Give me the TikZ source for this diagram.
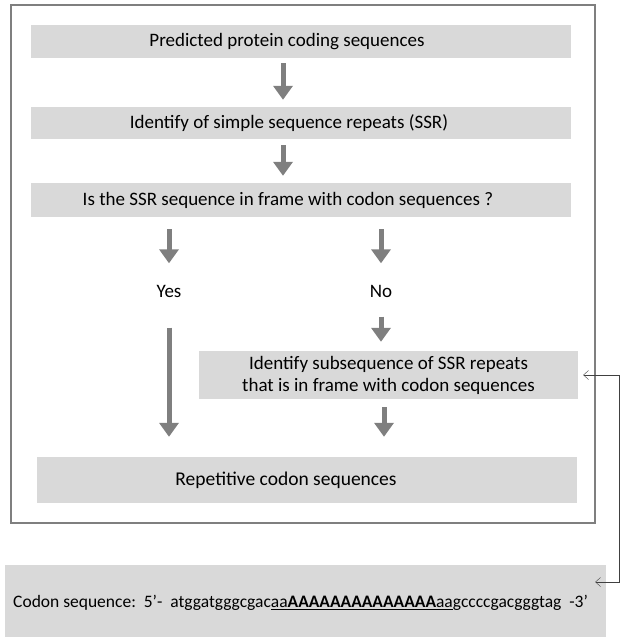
\documentclass[tikz,border=0pt]{standalone}
\usepackage{fontspec}
\setmainfont{Carlito}
\usetikzlibrary{arrows.meta,positioning,calc}
\definecolor{boxgray}{RGB}{217,217,217}
\definecolor{arrowgray}{RGB}{127,127,127}
\definecolor{linegray}{RGB}{64,64,64}
\tikzstyle{box} = [fill=boxgray, inner sep=0pt, font=\fontsize{19}{22}\selectfont]
\tikzstyle{arrow} = [line width=5pt, draw=arrowgray, -{Triangle[width=19pt,length=14pt]}]
\tikzstyle{link} = [thin, draw=linegray, {Straight Barb[length=5pt,width=9pt]}-{Straight Barb[length=5pt,width=9pt]}]

\begin{document}
\begin{tikzpicture}[x=1pt,y=1pt]
\useasboundingbox (0,0) rectangle (624,-643);
% frame
\draw[arrowgray, line width=2pt] (11,-5) rectangle (595,-523);
\node[box, minimum width=540pt, minimum height=33pt] (b1) at (301,-41.5) {Predicted protein coding sequences\kern28pt};
\node[box, minimum width=540pt, minimum height=32pt] (b2) at (301,-123) {Identify of simple sequence repeats (SSR)\kern24pt};
\node[box, minimum width=540pt, minimum height=34pt] (b3) at (301,-200) {Is the SSR sequence in frame with codon sequences ?\kern26pt};
\node[font=\fontsize{19}{22}\selectfont] (yes) at (169,-291) {Yes};
\node[font=\fontsize{19}{22}\selectfont] (no) at (381,-291) {No};
\node[box, minimum width=379pt, minimum height=48pt, align=center] (b4) at (388.5,-375) {Identify subsequence of SSR repeats\\that is in frame with codon sequences};
\node[box, minimum width=540pt, minimum height=46pt, font=\fontsize{19.5}{23}\selectfont] (b5) at (307,-480) {Repetitive codon sequences\kern42pt};
\node[box, minimum width=601pt, minimum height=72pt] (seq) at (305.5,-601) {};
\node[font=\fontsize{17.5}{21}\selectfont, anchor=west, inner sep=0pt] (codon) at (13,-603) {Codon sequence:\ \ 5’-\ \ atggatgggcgac\underline{aa\textbf{AAAAAAAAAAAAAA}aa}gccccgacgggtag\ \ -3’};
\draw[arrow, shorten <=5pt, shorten >=7pt] (b1.south -| 283,0) -- (b2.north -| 283,0);
\draw[arrow, shorten <=6pt, shorten >=7pt] (b2.south -| 283,0) -- (b3.north -| 283,0);
\draw[arrow, shorten <=12pt, shorten >=18pt] (b3.south -| yes) -- (yes);
\draw[arrow, shorten <=12pt, shorten >=18pt] (b3.south -| no) -- (no);
\draw[arrow, shorten <=16pt, shorten >=9pt] (no) -- (b4.north -| no);
\draw[arrow, shorten <=27pt, shorten >=20pt] (yes) -- (b5.north -| yes);
\draw[arrow, shorten <=8pt, shorten >=20pt] (b4.south -| 384,0) -- (b5.north -| 384,0);
\draw[link] ([xshift=5pt]b4.east) -- ++(36,0) |- ([xshift=-11pt,yshift=19pt]seq.east);
\end{tikzpicture}
\end{document}
